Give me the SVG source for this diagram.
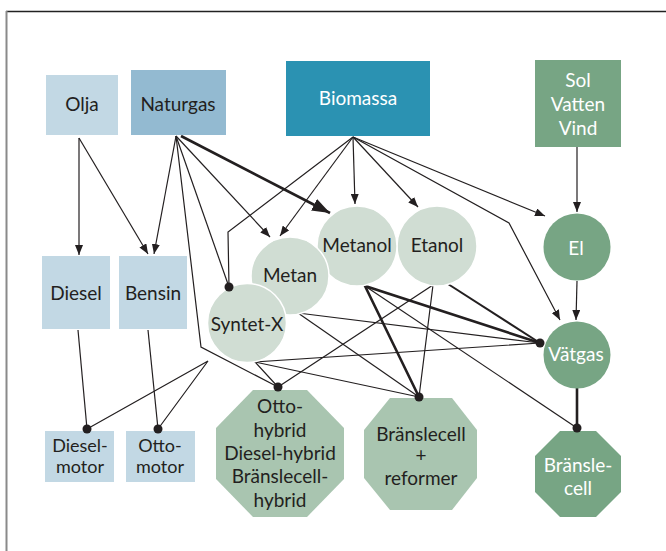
<svg xmlns="http://www.w3.org/2000/svg" width="666" height="551" viewBox="0 0 666 551">
<style>
.t{font-family:"Lato","Liberation Sans",sans-serif;font-size:19px;fill:#231f20;text-anchor:middle}
.s{font-size:18px}
.w{fill:#ffffff}
.ln{fill:none;stroke:#231f20;stroke-width:1.2;stroke-linejoin:miter}
.th{stroke-width:2.6}
.md{stroke-width:2}
.lb{fill:#c2d8e4}
.circ{fill:#d0ddd3;stroke:#ffffff;stroke-width:1.5}
.dk{fill:#77a584}
.oc{fill:#a9c5b0}
.dot{fill:#231f20}
</style>
<defs>
<marker id="a" markerUnits="userSpaceOnUse" markerWidth="10" markerHeight="8" refX="10" refY="4" orient="auto">
<path d="M0,0 L10,4 L0,8 z" fill="#231f20"/>
</marker>
<marker id="A" markerUnits="userSpaceOnUse" markerWidth="18" markerHeight="13" refX="18" refY="6.5" orient="auto">
<path d="M0,0 L18,6.5 L0,13 z" fill="#231f20"/>
</marker>
</defs>
<rect x="0" y="0" width="666" height="551" fill="#ffffff"/>
<g id="frame">
<line x1="6" y1="11.5" x2="666" y2="11.5" stroke="#222" stroke-width="1.4"/>
<line x1="6.5" y1="11" x2="6.5" y2="551" stroke="#8a8a8a" stroke-width="2"/>
</g>
<g id="connectors">
<path class="ln" d="M79,138 L79,255" marker-end="url(#a)"/>
<path class="ln" d="M79,138 L148,254" marker-end="url(#a)"/>
<path class="ln" d="M176,136 L154,254" marker-end="url(#a)"/>
<path class="ln" d="M176,136 L201,347 L278,387"/>
<path class="ln" d="M176,136 L229,287"/>
<path class="ln" d="M176,136 L270,237" marker-end="url(#a)"/>
<path class="ln th" d="M181,136 L330,213" marker-end="url(#A)"/>
<path class="ln" d="M353,137 L228,232 L229,287"/>
<path class="ln" d="M353,137 L280,236" marker-end="url(#a)"/>
<path class="ln" d="M353,137 L355,204" marker-end="url(#a)"/>
<path class="ln" d="M353,137 L418,207" marker-end="url(#a)"/>
<path class="ln" d="M353,137 L545,216" marker-end="url(#a)"/>
<path class="ln" d="M353,137 L509,223 L560,320" marker-end="url(#a)"/>
<path class="ln" d="M577,147 L577,212" marker-end="url(#a)"/>
<path class="ln" d="M577,281 L576,320" marker-end="url(#a)"/>
<path class="ln" d="M78,330 L87,429"/>
<path class="ln" d="M148,330 L158,429"/>
<path class="ln" d="M87,429 L208,361 L158,429"/>
<path class="ln" d="M278,387 L255,362 L540,343"/>
<path class="ln" d="M255,362 L419,397"/>
<path class="ln" d="M298,313 L540,343"/>
<path class="ln" d="M298,313 L419,397"/>
<path class="ln th" d="M540,343 L365,286 L419,397"/>
<path class="ln" d="M365,286 L577,428"/>
<path class="ln" d="M278,387 L433,285 L419,397"/>
<path class="ln md" d="M448,284 L540,343"/>
<path class="ln th" d="M577,388 L577,428"/>
</g>
<g id="olja"><rect class="lb" x="46" y="75" width="72" height="60"/><text class="t" x="82" y="111">Olja</text></g>
<g id="naturgas"><rect x="131" y="70" width="95" height="65" fill="#93bad1"/><text class="t" x="178" y="111">Naturgas</text></g>
<g id="biomassa"><rect x="286" y="61" width="144" height="75" fill="#2b92b2"/><text class="t w" x="358" y="105">Biomassa</text></g>
<g id="sol"><rect class="dk" x="535" y="60" width="86" height="87"/><text class="t w" x="578" y="87">Sol</text><text class="t w" x="578" y="111">Vatten</text><text class="t w" x="578" y="135">Vind</text></g>
<g id="diesel"><rect class="lb" x="42" y="256" width="68" height="73"/><text class="t" x="76" y="300">Diesel</text></g>
<g id="bensin"><rect class="lb" x="119" y="256" width="68" height="73"/><text class="t" x="153" y="300">Bensin</text></g>
<g id="dieselmotor"><rect class="lb" x="45" y="431" width="69" height="51"/><text class="t s" x="80" y="452">Diesel-</text><text class="t s" x="80" y="473">motor</text></g>
<g id="ottomotor"><rect class="lb" x="126" y="431" width="69" height="51"/><text class="t s" x="160" y="452">Otto-</text><text class="t s" x="160" y="473">motor</text></g>
<g id="etanol"><circle class="circ" cx="437" cy="246" r="40"/><text class="t" x="437" y="252">Etanol</text></g>
<g id="metanol"><circle class="circ" cx="357" cy="246" r="40"/><text class="t" x="357" y="252">Metanol</text></g>
<g id="metan"><circle class="circ" cx="290" cy="276" r="39"/><text class="t" x="290" y="282">Metan</text></g>
<g id="syntetx"><circle class="circ" cx="247" cy="323" r="39.5"/><text class="t" x="247" y="331">Syntet-X</text></g>
<g id="el"><circle class="dk" cx="577" cy="247" r="33.5"/><text class="t w" x="576" y="255">El</text></g>
<g id="vatgas"><circle class="dk" cx="577" cy="355" r="33.5"/><text class="t w" x="576" y="361">Vätgas</text></g>
<g id="ottohybrid"><polygon class="oc" points="253,390 307,390 344,428 344,479 307,517 253,517 216,479 216,428"/><text class="t" x="280" y="413">Otto-</text><text class="t" x="280" y="437">hybrid</text><text class="t" x="280" y="460">Diesel-hybrid</text><text class="t" x="280" y="483">Bränslecell-</text><text class="t" x="280" y="507">hybrid</text></g>
<g id="reformer"><polygon class="oc" points="390,398 452,398 477,430 477,478 452,510 390,510 364,478 364,430"/><text class="t" x="421" y="441">Bränslecell</text><text class="t" x="421" y="462">+</text><text class="t" x="421" y="485">reformer</text></g>
<g id="bransle"><polygon class="dk" points="560,431 596,431 621,456 621,492 596,517 560,517 535,492 535,456"/><text class="t w" x="578" y="472">Bränsle-</text><text class="t w" x="578" y="495">cell</text></g>
<g id="junctions">
<circle class="dot" cx="229" cy="287" r="4.5"/>
<circle class="dot" cx="87" cy="429" r="4.5"/>
<circle class="dot" cx="158" cy="429" r="4.5"/>
<circle class="dot" cx="278" cy="387" r="4.5"/>
<circle class="dot" cx="419" cy="397" r="4.5"/>
<circle class="dot" cx="540" cy="343" r="4.5"/>
<circle class="dot" cx="577" cy="428" r="4.5"/>
</g>
</svg>
